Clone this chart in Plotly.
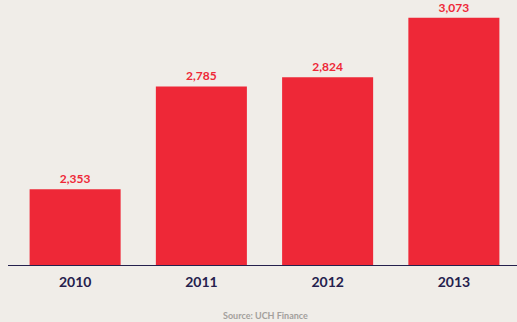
import plotly.graph_objects as go

years = ["2010", "2011", "2012", "2013"]
values = [2353, 2785, 2824, 3073]
source_text = "Source: UCH Finance"

BG = "#f0ede8"
RED = "#ee2837"
NAVY = "#25214d"
y_min, y_max = 2031, 3148

fig = go.Figure(
    go.Bar(
        x=years,
        y=values,
        marker=dict(color=RED, line=dict(width=0)),
        texttemplate="%{y:,}",
        textposition="outside",
        textfont=dict(family="Lato", size=12, color=RED, weight="bold"),
        cliponaxis=False,
        hoverinfo="skip",
    )
)

fig.add_shape(
    type="line", xref="paper", yref="y",
    x0=-4 / 505, x1=1, y0=y_min, y1=y_min,
    line=dict(color=NAVY, width=2),
)

fig.add_annotation(
    text=source_text, xref="paper", yref="paper",
    x=(265 - 12) / 505, y=-49 / 266, xanchor="center", yanchor="middle",
    showarrow=False,
    font=dict(family="Lato", size=9, color="#a3a09c", weight="bold"),
)

fig.update_layout(
    width=517, height=322,
    margin=dict(l=12, r=0, t=0, b=56),
    paper_bgcolor=BG, plot_bgcolor=BG,
    bargap=0.279,
    showlegend=False,
    xaxis=dict(
        showgrid=False, zeroline=False, showline=False, ticks="",
        tickfont=dict(family="Lato", size=14, color=NAVY, weight="bold"),
        ticklabelstandoff=6,
        fixedrange=True,
    ),
    yaxis=dict(
        range=[y_min, y_max], visible=False, showgrid=False, fixedrange=True,
    ),
)

fig.write_html("out.html")
